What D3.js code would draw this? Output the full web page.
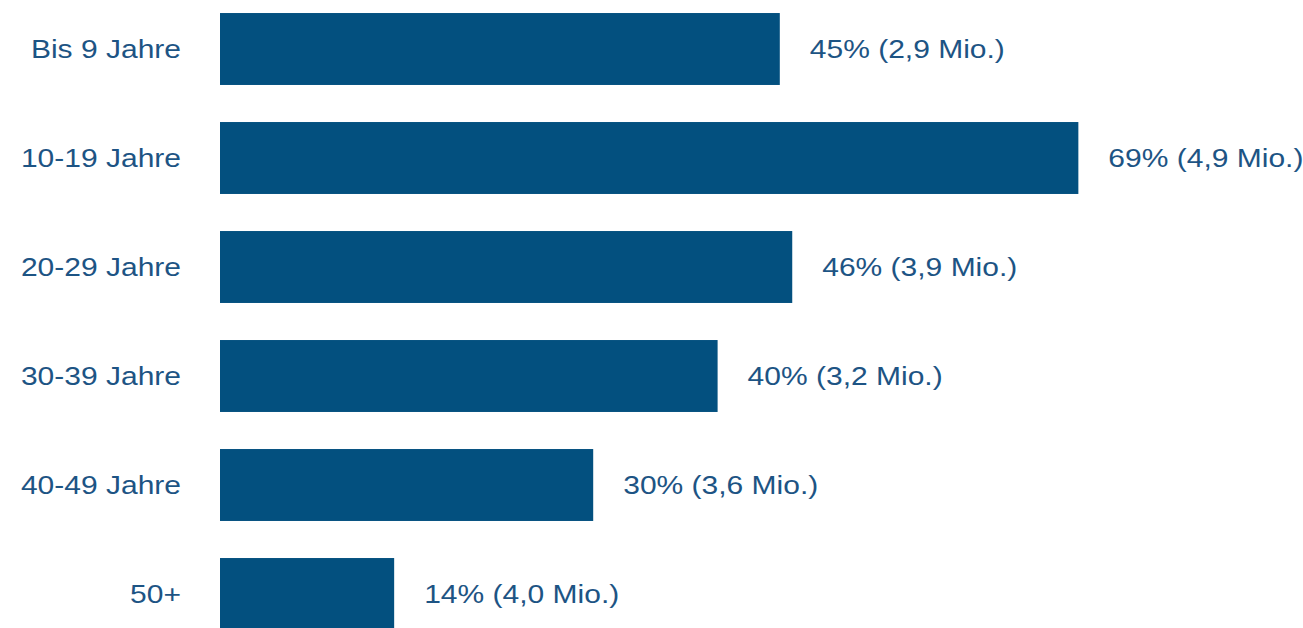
<!DOCTYPE html>
<html>
<head>
<meta charset="utf-8">
<script src="https://cdn.jsdelivr.net/npm/d3@7"></script>
<style>
  body { margin: 0; background: #fff; }
  text { font-family: "Liberation Sans", Arial, sans-serif; }
</style>
</head>
<body>
<div id="chart"></div>
<script>
var categories = ["Bis 9 Jahre", "10-19 Jahre", "20-29 Jahre", "30-39 Jahre", "40-49 Jahre", "50+"];
var percent = [45, 69, 46, 40, 30, 14];
var millions = [2.9, 4.9, 3.9, 3.2, 3.6, 4.0];

var graphD = {
  width: 1303,
  height: 628,
  left: 220,
  top: -5.5,
  step: 109,
  pxPerPercent: 12.44
};

var barColor = "#03507f";
var textColor = "#1d5484";

var svg = d3.select("#chart")
            .append("svg")
            .attr("width", graphD.width)
            .attr("height", graphD.height);

var xScale = d3.scaleLinear()
               .domain([0, 100])
               .range([graphD.left, graphD.left + 100 * graphD.pxPerPercent]);

var yScale = d3.scaleBand()
               .domain(categories)
               .range([graphD.top, graphD.top + categories.length * graphD.step])
               .paddingInner(0.34)
               .paddingOuter(0.17);

var fmt = function(v){ return v.toFixed(1).replace(".", ","); };

svg.append("g").selectAll("rect")
   .data(categories)
   .enter()
   .append("rect")
   .attr("fill", barColor)
   .attr("x", xScale(0))
   .attr("y", function(d){ return yScale(d); })
   .attr("width", function(d,i){ return xScale(percent[i]) - xScale(0); })
   .attr("height", yScale.bandwidth());

// category labels (source image is stretched horizontally ~1.2x)
svg.append("g").selectAll("text")
   .data(categories)
   .enter()
   .append("text")
   .attr("transform", function(d){ return "translate(181," + (yScale(d) + yScale.bandwidth()/2) + ") scale(1.2,1)"; })
   .attr("text-anchor", "end")
   .attr("dy", "0.36em")
   .attr("fill", textColor)
   .style("font-size", "25px")
   .text(function(d){ return d; });

svg.append("g").selectAll("text")
   .data(categories)
   .enter()
   .append("text")
   .attr("transform", function(d,i){ return "translate(" + (xScale(percent[i]) + 30) + "," + (yScale(d) + yScale.bandwidth()/2) + ") scale(1.2,1)"; })
   .attr("dy", "0.36em")
   .attr("fill", textColor)
   .style("font-size", "25px")
   .text(function(d,i){ return percent[i] + "% (" + fmt(millions[i]) + " Mio.)"; });
</script>
</body>
</html>
